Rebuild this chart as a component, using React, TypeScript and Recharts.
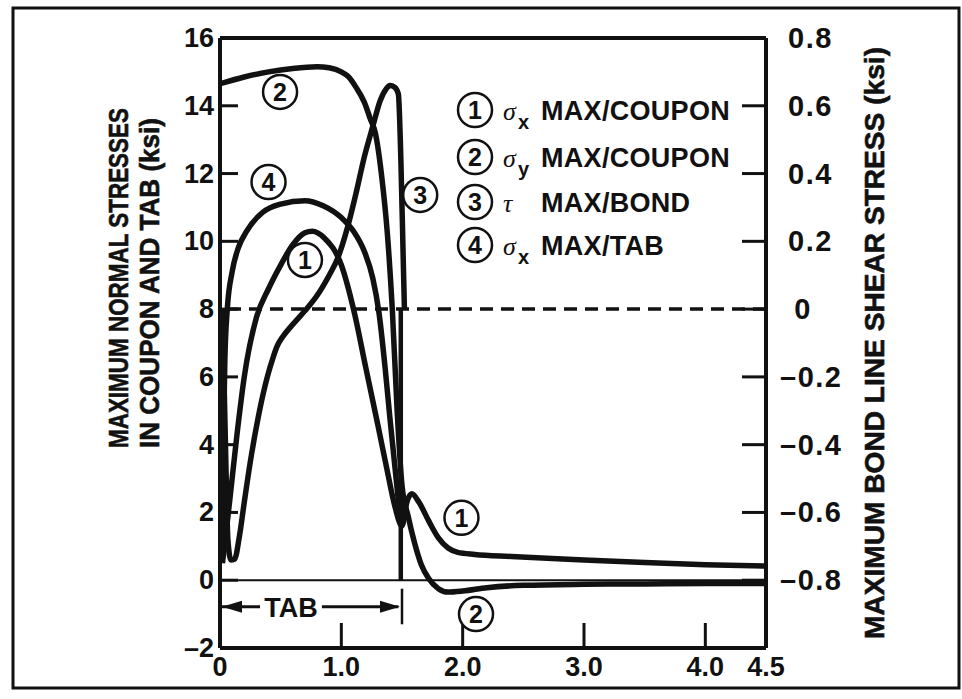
import React from 'react'
import {
  ComposedChart,
  Line,
  XAxis,
  YAxis,
  ReferenceLine,
  ReferenceDot,
} from 'recharts'

// ---------------------------------------------------------------------------
// Data (x = distance, left axis ksi, right axis ksi)
// ---------------------------------------------------------------------------

const X_TICKS = [0, 1, 2, 3, 4, 4.5]
const TOP_TICKS = [1, 2, 3, 4]
const LEFT_TICKS = [-2, 0, 2, 4, 6, 8, 10, 12, 14, 16]
const RIGHT_TICKS = [-0.8, -0.6, -0.4, -0.2, 0, 0.2, 0.4, 0.6, 0.8]

// (1) sigma-x max / coupon
const SX_COUPON_X = [0.02, 0.05, 0.08, 0.14, 0.2, 0.3, 0.4, 0.5, 0.6, 0.7, 0.76, 0.86, 1.0, 1.11, 1.2, 1.3, 1.38, 1.44, 1.5, 1.54, 1.58, 1.64, 1.72, 1.8, 1.88, 1.96, 2.1, 2.4, 3.0, 3.5, 4.0, 4.5]
const SX_COUPON_Y = [0.5, 1.4, 2.35, 4.3, 6.0, 7.75, 8.6, 9.3, 9.9, 10.25, 10.3, 10.1, 9.3, 7.85, 6.3, 4.6, 3.2, 2.2, 1.6, 2.3, 2.55, 2.3, 1.75, 1.25, 0.95, 0.82, 0.76, 0.7, 0.6, 0.52, 0.46, 0.42]

// (2) sigma-y max / coupon
const SY_COUPON_X = [0, 0.2, 0.4, 0.6, 0.8, 0.9, 1.0, 1.06, 1.12, 1.19, 1.24, 1.28, 1.33, 1.38, 1.42, 1.46, 1.5, 1.55, 1.6, 1.66, 1.72, 1.8, 1.88, 2.0, 2.2, 2.5, 3.0, 3.5, 4.0, 4.5]
const SY_COUPON_Y = [14.65, 14.85, 15.0, 15.1, 15.15, 15.12, 15.0, 14.85, 14.55, 14.1, 13.6, 13.2, 12.0, 10.2, 8.0, 5.0, 2.8, 1.9, 1.15, 0.45, 0.05, -0.25, -0.35, -0.32, -0.22, -0.15, -0.12, -0.11, -0.1, -0.1]

// (3) tau max / bond (right axis)
const TAU_BOND_X = [0.02, 0.045, 0.065, 0.09, 0.12, 0.16, 0.2, 0.25, 0.32, 0.39, 0.44, 0.47, 0.52, 0.6, 0.7, 0.8, 0.9, 0.97, 1.05, 1.12, 1.19, 1.26, 1.32, 1.37, 1.4, 1.44, 1.47, 1.49, 1.51, 1.52]
const TAU_BOND_Y = [0.0, -0.4, -0.68, -0.74, -0.738, -0.67, -0.57, -0.45, -0.31, -0.2, -0.14, -0.11, -0.08, -0.045, -0.005, 0.04, 0.1, 0.15, 0.24, 0.34, 0.45, 0.54, 0.615, 0.65, 0.66, 0.655, 0.635, 0.45, 0.15, 0.0]

// (4) sigma-x max / tab
const SX_TAB_X = [0.015, 0.025, 0.04, 0.06, 0.1, 0.15, 0.22, 0.35, 0.5, 0.7, 0.85, 1.0, 1.1, 1.19, 1.26, 1.31, 1.36, 1.4, 1.44, 1.48]
const SX_TAB_Y = [0.6, 3.5, 6.5, 8.0, 9.1, 9.8, 10.3, 10.85, 11.1, 11.2, 11.05, 10.7, 10.3, 9.7, 8.9, 7.9, 6.3, 4.8, 3.4, 2.0]

// circled curve numbers placed on the plot
const CURVE_TAGS = [
  { n: '2', x: 0.495, y: 14.41 },
  { n: '4', x: 0.4, y: 11.75 },
  { n: '1', x: 0.7, y: 9.45 },
  { n: '3', x: 1.65, y: 11.37 },
  { n: '1', x: 1.99, y: 1.84 },
  { n: '2', x: 2.11, y: -1.0 },
]

const LEGEND_ROWS = [
  { n: '1', sym: 'σ', sub: 'x', text: 'MAX/COUPON' },
  { n: '2', sym: 'σ', sub: 'y', text: 'MAX/COUPON' },
  { n: '3', sym: 'τ', sub: '', text: 'MAX/BOND' },
  { n: '4', sym: 'σ', sub: 'x', text: 'MAX/TAB' },
]

const TAB_END = 1.5
const TAB_Y = -0.78

const zip = (xs: number[], ys: number[]) => xs.map((x, i) => ({ x, y: ys[i] }))

const FONT = "'Liberation Sans', Arial, Helvetica, sans-serif"
const INK = '#111'

// ---------------------------------------------------------------------------
// Tick renderers
// ---------------------------------------------------------------------------

const minus = (v: number, s: string) => (v < 0 ? '\u2013' + s : s)

function LeftTick(p: any) {
  const v = p.payload.value as number
  return (
    <text x={p.x} y={p.y} dy={9} textAnchor="end" fontSize={27} fontWeight="bold" fontFamily={FONT} fill={INK}>
      {minus(v, String(Math.abs(v)))}
    </text>
  )
}

// right labels: "0" sits alone, the rest share a left edge (minus hangs out)
function RightTick(p: any) {
  const v = p.payload.value as number
  const common = { y: p.y, dy: 10, fontSize: 29, fontWeight: 'bold', fontFamily: FONT, fill: INK, letterSpacing: 1.5 }
  if (v === 0) {
    return (
      <text {...common} x={p.x + 17} textAnchor="middle">
        0
      </text>
    )
  }
  return (
    <text {...common} x={v < 0 ? p.x - 6 : p.x + 2} textAnchor="start">
      {minus(v, Math.abs(v).toFixed(1))}
    </text>
  )
}

function BottomTick(p: any) {
  const v = p.payload.value as number
  return (
    <text x={p.x} y={p.y} dy={20} textAnchor="middle" fontSize={27} fontWeight="bold" fontFamily={FONT} fill={INK}>
      {v === 0 ? '0' : v.toFixed(1)}
    </text>
  )
}

function CircleNum({ cx, cy, n }: { cx: number; cy: number; n: string }) {
  return (
    <g>
      <circle cx={cx} cy={cy} r={17} fill="#fff" stroke={INK} strokeWidth={2.5} />
      <text x={cx} y={cy + 9} textAnchor="middle" fontSize={25} fontWeight="bold" fontFamily={FONT} fill={INK}>
        {n}
      </text>
    </g>
  )
}

// ---------------------------------------------------------------------------
// Chart
// ---------------------------------------------------------------------------

export default function App() {
  const lineProps = {
    xAxisId: 'bottom',
    type: 'monotone' as const,
    dot: false,
    stroke: INK,
    strokeWidth: 5.5,
    strokeLinejoin: 'round' as const,
    isAnimationActive: false,
  }

  return (
    <div style={{ position: 'absolute', left: 0, top: 0, width: 962, height: 699, background: '#fff' }}>
      <ComposedChart width={962} height={699} margin={{ top: 0, right: 0, bottom: 0, left: 0 }}>
        <XAxis
          xAxisId="top"
          orientation="top"
          type="number"
          dataKey="x"
          domain={[0, 4.5]}
          ticks={TOP_TICKS}
          height={38}
          tick={false}
          tickSize={-20}
          axisLine={{ stroke: INK, strokeWidth: 4 }}
          tickLine={{ stroke: INK, strokeWidth: 3 }}
          allowDataOverflow
        />
        <XAxis
          xAxisId="bottom"
          type="number"
          dataKey="x"
          domain={[0, 4.5]}
          ticks={X_TICKS}
          interval={0}
          height={51}
          tickSize={-25}
          tickMargin={33}
          tick={BottomTick}
          axisLine={{ stroke: INK, strokeWidth: 4 }}
          tickLine={{ stroke: INK, strokeWidth: 3 }}
          allowDataOverflow
        />
        <YAxis
          yAxisId="left"
          type="number"
          domain={[-2, 16]}
          ticks={LEFT_TICKS}
          interval={0}
          width={220}
          tickSize={-18}
          tickMargin={24}
          tick={LeftTick}
          axisLine={{ stroke: INK, strokeWidth: 4 }}
          tickLine={{ stroke: INK, strokeWidth: 3 }}
          allowDataOverflow
        />
        <YAxis
          yAxisId="right"
          orientation="right"
          type="number"
          domain={[-1, 0.8]}
          ticks={RIGHT_TICKS}
          interval={0}
          width={196}
          tickSize={-24}
          tickMargin={44}
          tick={RightTick}
          axisLine={{ stroke: INK, strokeWidth: 4 }}
          tickLine={{ stroke: INK, strokeWidth: 3 }}
          allowDataOverflow
        />

        {/* zero of the normal-stress axis and zero of the shear axis */}
        <ReferenceLine xAxisId="bottom" yAxisId="left" y={0} stroke={INK} strokeWidth={2} />
        <ReferenceLine xAxisId="bottom" yAxisId="right" y={0} stroke={INK} strokeWidth={3.5} strokeDasharray="13 8" />
        {/* tab free end */}
        <ReferenceLine
          xAxisId="bottom"
          yAxisId="left"
          segment={[{ x: 1.49, y: 0 }, { x: 1.49, y: 8 }]}
          stroke={INK}
          strokeWidth={4.5}
        />

        <Line {...lineProps} yAxisId="left" data={zip(SX_COUPON_X, SX_COUPON_Y)} dataKey="y" />
        <Line {...lineProps} yAxisId="left" data={zip(SY_COUPON_X, SY_COUPON_Y)} dataKey="y" />
        <Line {...lineProps} yAxisId="right" data={zip(TAU_BOND_X, TAU_BOND_Y)} dataKey="y" />
        <Line {...lineProps} yAxisId="left" data={zip(SX_TAB_X, SX_TAB_Y)} dataKey="y" />

        {/* TAB length marker */}
        <ReferenceLine
          xAxisId="bottom"
          yAxisId="left"
          segment={[{ x: 0.01, y: TAB_Y }, { x: 0.33, y: TAB_Y }]}
          stroke={INK}
          strokeWidth={3}
        />
        <ReferenceLine
          xAxisId="bottom"
          yAxisId="left"
          segment={[{ x: 0.84, y: TAB_Y }, { x: TAB_END - 0.03, y: TAB_Y }]}
          stroke={INK}
          strokeWidth={3}
        />
        <ReferenceLine
          xAxisId="bottom"
          yAxisId="left"
          segment={[{ x: TAB_END, y: -0.25 }, { x: TAB_END, y: -1.3 }]}
          stroke={INK}
          strokeWidth={2.5}
        />
        <ReferenceDot
          xAxisId="bottom"
          yAxisId="left"
          x={0}
          y={TAB_Y}
          r={1}
          shape={(p: any) => (
            <polygon points={`${p.cx + 2},${p.cy} ${p.cx + 22},${p.cy - 6} ${p.cx + 22},${p.cy + 6}`} fill={INK} />
          )}
        />
        <ReferenceDot
          xAxisId="bottom"
          yAxisId="left"
          x={TAB_END}
          y={TAB_Y}
          r={1}
          shape={(p: any) => (
            <polygon points={`${p.cx - 2},${p.cy} ${p.cx - 22},${p.cy - 6} ${p.cx - 22},${p.cy + 6}`} fill={INK} />
          )}
        />
        <ReferenceDot
          xAxisId="bottom"
          yAxisId="left"
          x={0.585}
          y={TAB_Y}
          r={1}
          shape={(p: any) => (
            <text x={p.cx} y={p.cy + 10} textAnchor="middle" fontSize={27} fontWeight="bold" fontFamily={FONT} fill={INK}>
              TAB
            </text>
          )}
        />

        {CURVE_TAGS.map((t, i) => (
          <ReferenceDot
            key={i}
            xAxisId="bottom"
            yAxisId="left"
            x={t.x}
            y={t.y}
            r={17}
            shape={(p: any) => <CircleNum cx={p.cx} cy={p.cy} n={t.n} />}
          />
        ))}
      </ComposedChart>

      <svg
        width={962}
        height={699}
        style={{ position: 'absolute', left: 0, top: 0, pointerEvents: 'none' }}
      >
        <rect x={13} y={8} width={946} height={680} fill="none" stroke={INK} strokeWidth={3} />

        <g fontFamily={FONT} fontWeight="bold" fill={INK} stroke={INK} strokeWidth={0.6}>
          <text
            transform="translate(128,278) rotate(-90)"
            textAnchor="middle"
            fontSize={28}
            textLength={340}
            lengthAdjust="spacingAndGlyphs"
          >
            MAXIMUM NORMAL STRESSES
          </text>
          <text
            transform="translate(159,283) rotate(-90)"
            textAnchor="middle"
            fontSize={28}
            textLength={330}
            lengthAdjust="spacingAndGlyphs"
          >
            IN COUPON AND TAB (ksi)
          </text>
          <text
            transform="translate(884,343) rotate(-90)"
            textAnchor="middle"
            fontSize={28}
            textLength={592}
            lengthAdjust="spacingAndGlyphs"
          >
            MAXIMUM BOND LINE SHEAR STRESS (ksi)
          </text>
        </g>

        {LEGEND_ROWS.map((r, i) => {
          const base = [120, 167, 212, 255][i]
          return (
            <g key={i} fill={INK}>
              <CircleNum cx={475} cy={base - 10} n={r.n} />
              <text x={503} y={base} fontSize={26} fontStyle="italic" fontFamily="'Liberation Serif', serif">
                {r.sym}
              </text>
              {r.sub && (
                <text x={518} y={base + 9} fontSize={20} fontWeight="bold" fontFamily={FONT}>
                  {r.sub}
                </text>
              )}
              <text x={541} y={base} fontSize={27} fontWeight="bold" fontFamily={FONT} letterSpacing={0.3}>
                {r.text}
              </text>
            </g>
          )
        })}
      </svg>
    </div>
  )
}
